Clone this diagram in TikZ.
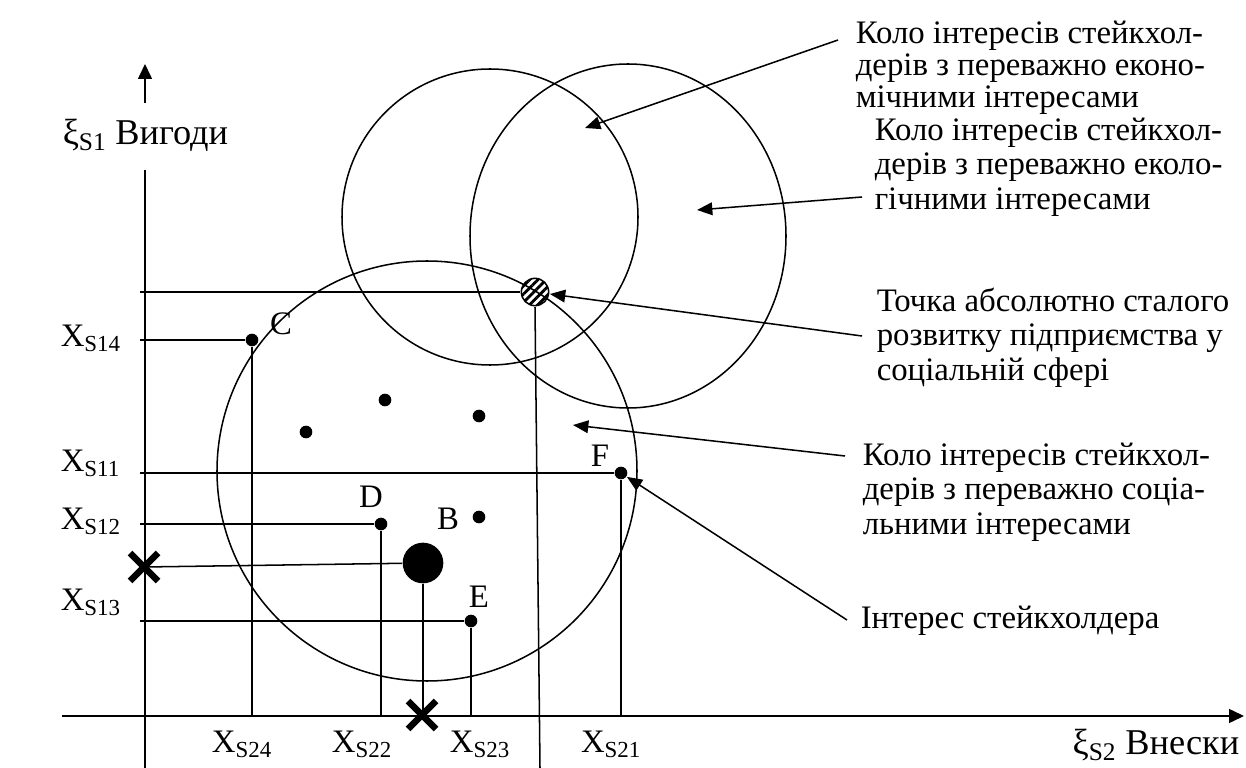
\documentclass[tikz,border=0pt]{standalone}
\usepackage{fontspec}
\setmainfont{Liberation Serif}
\usetikzlibrary{arrows.meta,patterns.meta,calc}

\tikzset{
  dot/.style={circle,fill=black,inner sep=0pt,minimum size=0.38cm},
  bigdot/.style={circle,fill=black,inner sep=0pt,minimum size=1.22cm},
  lbl/.style={inner sep=0pt,font=\fontsize{28}{30}\selectfont},
  axlbl/.style={inner sep=0pt,font=\fontsize{31}{32}\selectfont},
  txt/.style={inner sep=0pt,align=left,font=\fontsize{28}{29.6}\selectfont},
  arr/.style={-{Triangle[length=0.46cm,width=0.38cm]}},
  cross/.style={line width=5.5pt}
}

\begin{document}
\begin{tikzpicture}[x=0.03cm,y=-0.03cm,line width=1.3pt]
\useasboundingbox (0,0) rectangle (1246,768);

% axes
\coordinate (O) at (145,716);
\coordinate (L) at (140,0);
\draw[-{Triangle[length=0.45cm,width=0.42cm]}] (62,716) -- (1244,716);
\draw (145,768) -- (145,170);
\draw[-{Triangle[length=0.45cm,width=0.42cm]}] (145,103) -- (145,64);
\node[axlbl,anchor=west] (yl) at (62,135) {ξ\textsubscript{S1} Вигоди};
\node[axlbl,anchor=east] (xl) at (1240,745) {ξ\textsubscript{S2} Внески};

% circles of interests
\draw (427,471) circle [radius=210];
\draw (490,217) circle [radius=148];
\draw (628,236) ellipse [x radius=158,y radius=172];

% points
\node[circle,draw,pattern={Lines[angle=45,distance=5pt,line width=2.4pt]},
      inner sep=0pt,minimum size=0.82cm] (H) at (535,292) {};
\node[dot] (C) at (252,340) {};
\node[dot] (F) at (621,473) {};
\node[dot] (D) at (381,524) {};
\node[bigdot] (B) at (423,563) {};
\node[dot] (E) at (471,621) {};
\node[dot] (p1) at (306,432) {};
\node[dot] (p2) at (385,400) {};
\node[dot] (p3) at (479,416) {};
\node[dot] (p4) at (479,517) {};

\node[lbl] at (281,324) {C};
\node[lbl] at (600,456) {F};
\node[lbl] at (371,497) {D};
\node[lbl] at (448,519) {B};
\node[lbl] at (479,597) {E};

% projections
\draw (H) -- (H -| L);
\draw (H.south) -- (540,768);
\draw (C) -- (C -| L);
\draw (C) -- (C |- O);
\draw (F) -- (F -| L);
\draw (F) -- (F |- O);
\draw (D) -- (D -| L);
\draw (D) -- (D |- O);
\draw (E) -- (E -| L);
\draw (E) -- (E |- O);

% crosses
\coordinate (k1) at (144,567);
\coordinate (k2) at (422,715);
\draw (B) -- (k1);
\draw (B) -- (B |- O);
\draw[cross] ($(k1)+(-14,-14)$) -- ($(k1)+(14,14)$);
\draw[cross] ($(k1)+(-14,14)$) -- ($(k1)+(14,-14)$);
\draw[cross] ($(k2)+(-14,-14)$) -- ($(k2)+(14,14)$);
\draw[cross] ($(k2)+(-14,14)$) -- ($(k2)+(14,-14)$);

% axis marks
\node[lbl,anchor=west] at (60,338) {X\textsubscript{S14}};
\node[lbl,anchor=west] at (60,463) {X\textsubscript{S11}};
\node[lbl,anchor=west] at (60,521) {X\textsubscript{S12}};
\node[lbl,anchor=west] at (60,602) {X\textsubscript{S13}};
\node[lbl] at (242,744) {X\textsubscript{S24}};
\node[lbl] at (362,744) {X\textsubscript{S22}};
\node[lbl] at (480,744) {X\textsubscript{S23}};
\node[lbl] at (611,744) {X\textsubscript{S21}};

% explanations
\node[txt,anchor=north west,font=\fontsize{28}{27.6}\selectfont] (t1) at (855,20) {Коло інтересів стейкхол-\\дерів з переважно еконо-\\мічними інтересами};
\node[txt,anchor=north west] (t2) at (874,117) {Коло інтересів стейкхол-\\дерів з переважно еколо-\\гічними інтересами};
\node[txt,anchor=north west] (t3) at (876,287) {Точка абсолютно сталого\\розвитку підприємства у\\соціальній сфері};
\node[txt,anchor=north west] (t4) at (862,442) {Коло інтересів стейкхол-\\дерів з переважно соціа-\\льними інтересами};
\node[txt,anchor=west] (t5) at (860,621) {Інтерес стейкхолдера};

\coordinate (s1) at (838,40);
\coordinate (s2) at (862,197);
\coordinate (s3) at (862,336);
\coordinate (s4) at (845,456);
\coordinate (s5) at (847,620);
\coordinate (e1) at (585,128);
\coordinate (e2) at (697,210);
\coordinate (e4) at (573,425);
\draw[arr] (s1) -- (e1);
\draw[arr] (s2) -- (e2);
\draw[arr] (s3) -- (H);
\draw[arr] (s4) -- (e4);
\draw[arr] (s5) -- (F);
\end{tikzpicture}
\end{document}
